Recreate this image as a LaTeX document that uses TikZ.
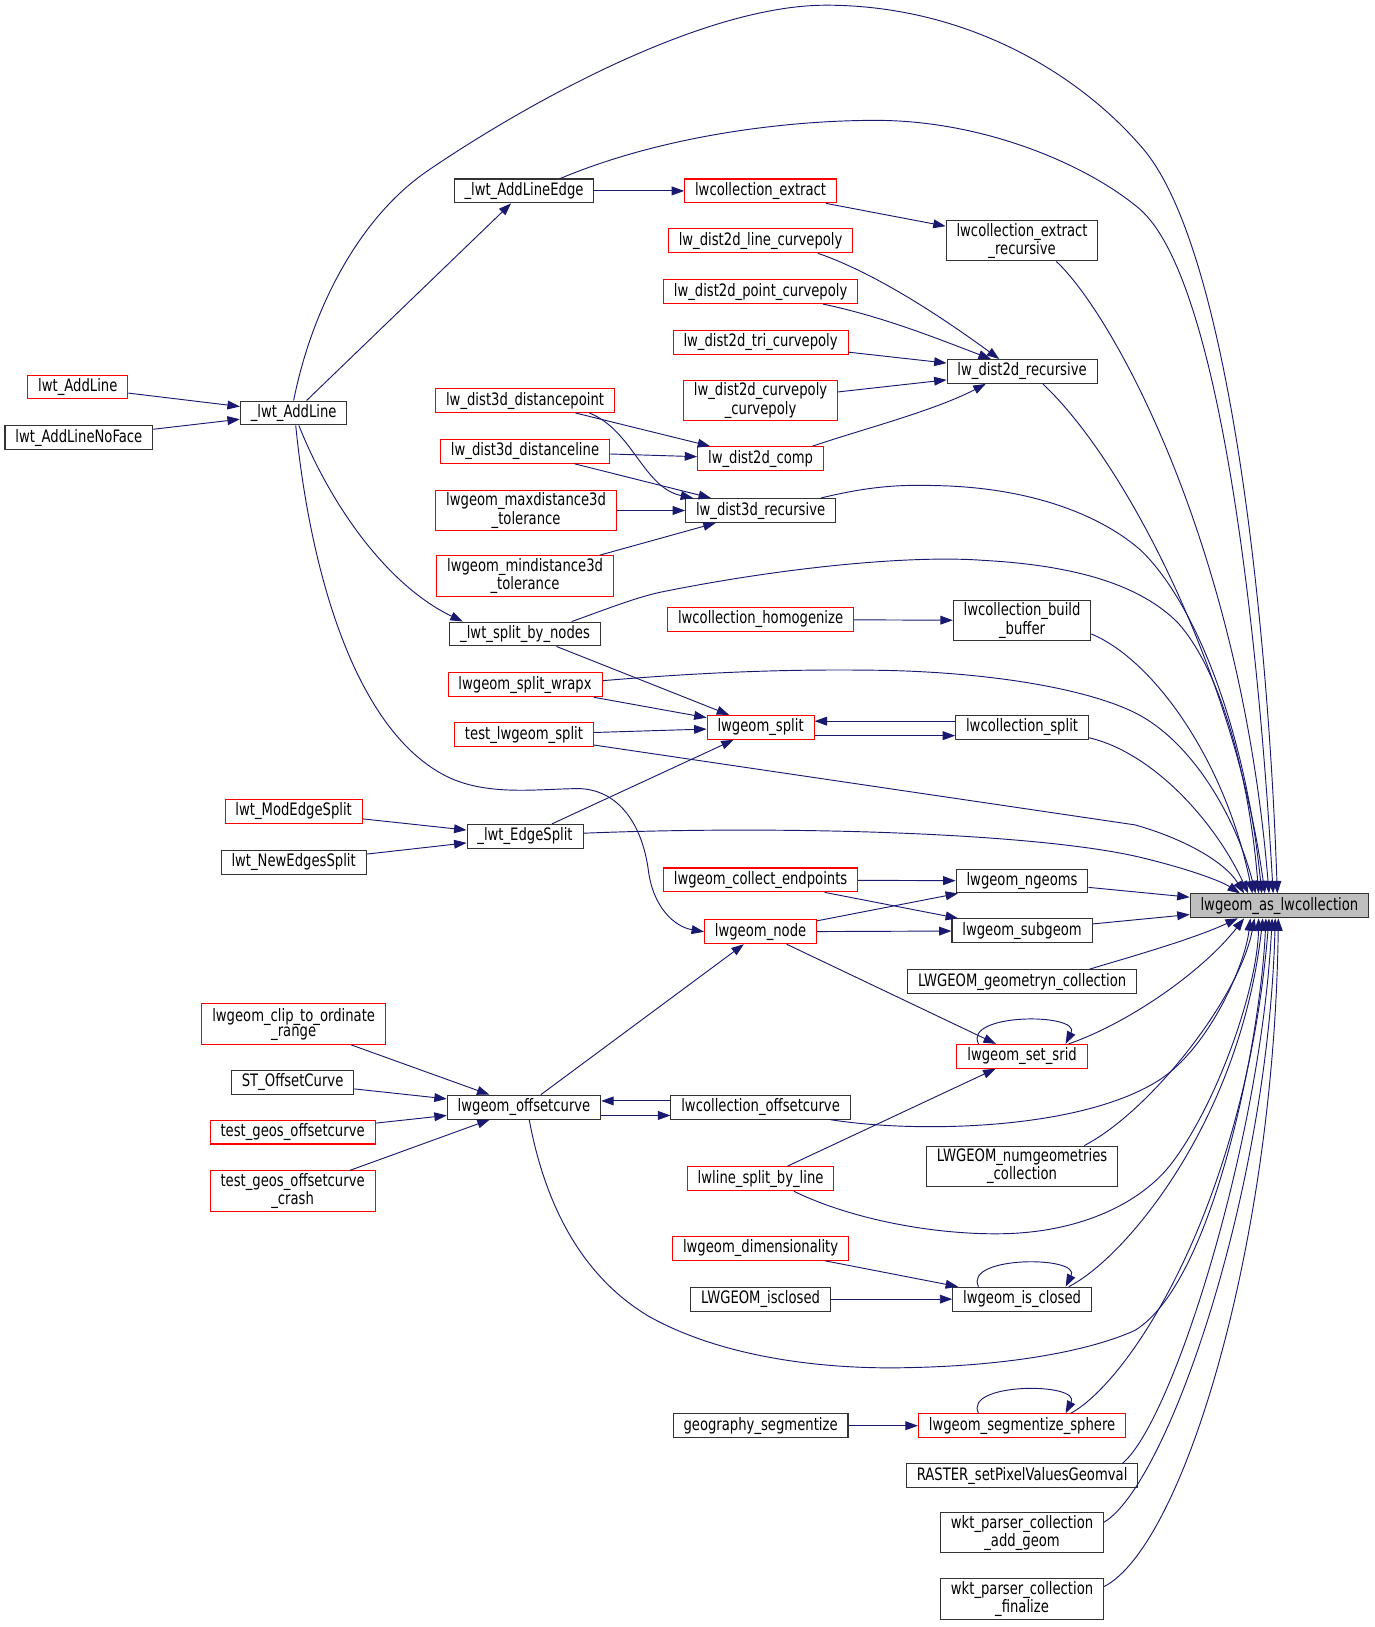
\documentclass[tikz,border=0pt]{standalone}
\usepackage{fontspec}
\setmainfont{DejaVu Sans}[FakeStretch=0.77]
\usetikzlibrary{arrows.meta}
\definecolor{edgeblue}{HTML}{191970}
\newcommand\fnfont{\fontsize{16.5pt}{14.5pt}\selectfont}

\begin{document}
\begin{tikzpicture}[x=1pt, y=-1pt,
  fn/.style={draw=black!80, line width=1pt, fill=white, font=\fnfont, inner xsep=10pt, inner ysep=2pt, minimum height=23pt, align=center},
  fntwo/.style={fn, minimum height=39pt},
  trunc/.style={draw=red},
  call/.style={draw=edgeblue, line width=0.9pt, -{Triangle[length=12pt, width=8.5pt]}}]
  \useasboundingbox (0,0) rectangle (1325,1568);

  \node[fn, fill=gray!50] (aslwcollection) at (1233,873) {lwgeom\_as\_lwcollection};

  \node[fntwo] (extractrec) at (985,232) {lwcollection\_extract\\\_recursive};
  \node[fn] (dist2drec) at (985,358) {lw\_dist2d\_recursive};
  \node[fntwo] (buildbuffer) at (985,598) {lwcollection\_build\\\_buffer};
  \node[fn] (collsplit) at (985,701) {lwcollection\_split};
  \node[fn] (ngeoms) at (985,849) {lwgeom\_ngeoms};
  \node[fn] (subgeom) at (985,897) {lwgeom\_subgeom};
  \node[fn] (geomncoll) at (985,946) {LWGEOM\_geometryn\_collection};
  \node[fn, trunc] (setsrid) at (985,1018) {lwgeom\_set\_srid};
  \node[fntwo] (numgeomcoll) at (985,1124) {LWGEOM\_numgeometries\\\_collection};
  \node[fn] (isclosed) at (985,1252) {lwgeom\_is\_closed};
  \node[fn, trunc] (segsphere) at (985,1374) {lwgeom\_segmentize\_sphere};
  \node[fn] (rastersetpix) at (985,1422) {RASTER\_setPixelValuesGeomval};
  \node[fntwo] (wktaddgeom) at (985,1477) {wkt\_parser\_collection\\\_add\_geom};
  \node[fntwo] (wktfinalize) at (985,1541) {wkt\_parser\_collection\\\_finalize};

  \node[fn, trunc] (collextract) at (733,184) {lwcollection\_extract};
  \node[fn, trunc] (d2dline) at (733,232) {lw\_dist2d\_line\_curvepoly};
  \node[fn, trunc] (d2dpoint) at (733,281) {lw\_dist2d\_point\_curvepoly};
  \node[fn, trunc] (d2dtri) at (733,330) {lw\_dist2d\_tri\_curvepoly};
  \node[fntwo, trunc] (d2dcurve) at (733,386) {lw\_dist2d\_curvepoly\\\_curvepoly};
  \node[fn, trunc] (d2dcomp) at (733,442) {lw\_dist2d\_comp};
  \node[fn] (d3drec) at (733,492) {lw\_dist3d\_recursive};
  \node[fn, trunc] (homogenize) at (733,597) {lwcollection\_homogenize};
  \node[fn, trunc] (geomsplit) at (733,701) {lwgeom\_split};
  \node[fn, trunc] (collectend) at (733,848) {lwgeom\_collect\_endpoints};
  \node[fn, trunc] (geomnode) at (733,898) {lwgeom\_node};
  \node[fn] (colloffset) at (733,1067) {lwcollection\_offsetcurve};
  \node[fn, trunc] (linesplit) at (733,1136) {lwline\_split\_by\_line};
  \node[fn, trunc] (dimension) at (733,1203) {lwgeom\_dimensionality};
  \node[fn] (isclosedsql) at (733,1252) {LWGEOM\_isclosed};
  \node[fn] (geogseg) at (733,1374) {geography\_segmentize};

  \node[fn] (addlineedge) at (505,184) {\_lwt\_AddLineEdge};
  \node[fn, trunc] (d3dpoint) at (506,386) {lw\_dist3d\_distancepoint};
  \node[fn, trunc] (d3dline) at (506,435) {lw\_dist3d\_distanceline};
  \node[fntwo, trunc] (maxd3d) at (507,492) {lwgeom\_maxdistance3d\\\_tolerance};
  \node[fntwo, trunc] (mind3d) at (506,555) {lwgeom\_mindistance3d\\\_tolerance};
  \node[fn] (splitnodes) at (506,611) {\_lwt\_split\_by\_nodes};
  \node[fn, trunc] (splitwrapx) at (506,660) {lwgeom\_split\_wrapx};
  \node[fn, trunc] (testsplit) at (505,708) {test\_lwgeom\_split};
  \node[fn] (edgesplit) at (506,806) {\_lwt\_EdgeSplit};
  \node[fn] (offsetcurve) at (505,1067) {lwgeom\_offsetcurve};

  \node[fn] (addline) at (283,398) {\_lwt\_AddLine};
  \node[fn, trunc] (modedge) at (283,782) {lwt\_ModEdgeSplit};
  \node[fn] (newedges) at (283,831) {lwt\_NewEdgesSplit};
  \node[fntwo, trunc] (cliprange) at (283,987) {lwgeom\_clip\_to\_ordinate\\\_range};
  \node[fn] (stoffset) at (282,1043) {ST\_OffsetCurve};
  \node[fn, trunc] (testoffset) at (282,1091) {test\_geos\_offsetcurve};
  \node[fntwo, trunc] (testcrash) at (282,1148) {test\_geos\_offsetcurve\\\_crash};

  \node[fn, trunc] (lwtaddline) at (75,373) {lwt\_AddLine};
  \node[fn] (lwtnoface) at (76,422) {lwt\_AddLineNoFace};

  \draw[call] (lwtaddline) -- (addline);
  \draw[call] (lwtnoface) -- (addline);
  \draw[call] (addline) -- (addlineedge);
  \draw[call] (addline.north) .. controls (300,300) and (345,210) .. (413,164) .. controls (513,96) and (680,5) .. (796,5) .. controls (930,5) and (1040,70) .. (1103,145) .. controls (1185,245) and (1222,600) .. ([xshift=-2pt]aslwcollection.north);
  \draw[call] ([xshift=5pt]addline.south) .. controls (320,490) and (375,565) .. ([xshift=-60pt]splitnodes.north);
  \draw[call] ([xshift=2pt]addline.south) .. controls (300,560) and (345,705) .. (430,748) .. controls (470,768) and (520,760) .. (559,760) .. controls (600,762) and (620,800) .. (625,840) .. controls (630,875) and (650,893) .. (geomnode.west);
  \draw[call] (addlineedge) -- (collextract);
  \draw[call] ([xshift=35pt]addlineedge.north) .. controls (640,130) and (760,116) .. (844,116) .. controls (950,116) and (1050,160) .. (1099,202) .. controls (1175,270) and (1212,600) .. ([xshift=-6pt]aslwcollection.north);
  \draw[call] (collextract) -- (extractrec);
  \draw[call] ([xshift=33pt]extractrec.south) .. controls (1070,300) and (1195,520) .. ([xshift=-10pt]aslwcollection.north);

  \draw[call] ([xshift=55pt]d2dline.south) .. controls (840,262) and (900,300) .. ([xshift=-22pt]dist2drec.north);
  \draw[call] ([xshift=60pt]d2dpoint.south) .. controls (850,305) and (900,325) .. ([xshift=-30pt]dist2drec.north);
  \draw[call] (d2dtri) -- (dist2drec);
  \draw[call] (d2dcurve) -- (dist2drec);
  \draw[call] ([xshift=50pt]d2dcomp.north) .. controls (830,414) and (900,396) .. ([xshift=-35pt]dist2drec.south);
  \draw[call] ([xshift=20pt]dist2drec.south) .. controls (1085,445) and (1190,650) .. ([xshift=-14pt]aslwcollection.north);
  \draw[call] (d3dpoint) -- (d2dcomp);
  \draw[call] ([xshift=62pt]d3dpoint.south) .. controls (610,415) and (620,470) .. ([xshift=-65pt]d3drec.north);
  \draw[call] (d3dline) -- (d2dcomp);
  \draw[call] (d3dline) -- (d3drec);
  \draw[call] (maxd3d) -- (d3drec);
  \draw[call] (mind3d) -- (d3drec);
  \draw[call] ([xshift=58pt]d3drec.north) .. controls (840,468) and (870,467) .. (903,468) .. controls (1000,470) and (1065,500) .. (1099,530) .. controls (1150,578) and (1200,700) .. ([xshift=-17pt]aslwcollection.north);

  \draw[call] (splitnodes) -- (geomsplit);
  \draw[call] ([xshift=45pt]splitnodes.north) .. controls (590,585) and (615,575) .. (640,570) .. controls (760,546) and (880,535) .. (947,540) .. controls (1040,545) and (1100,565) .. (1135,600) .. controls (1180,650) and (1205,760) .. ([xshift=-20pt]aslwcollection.north);
  \draw[call] (homogenize) -- (buildbuffer);
  \draw[call] ([yshift=-13pt]buildbuffer.east) .. controls (1110,635) and (1180,730) .. ([xshift=-26pt]aslwcollection.north);
  \draw[call] (splitwrapx) -- (geomsplit);
  \draw[call] ([yshift=4pt]splitwrapx.east) .. controls (700,646) and (780,645) .. (849,646) .. controls (960,648) and (1050,665) .. (1094,687) .. controls (1150,715) and (1192,790) .. ([xshift=-23pt]aslwcollection.north);
  \draw[call] (testsplit) -- (geomsplit);
  \draw[call] ([yshift=-10pt]testsplit.east) -- (1094,795) .. controls (1140,808) and (1180,830) .. ([xshift=-34pt]aslwcollection.north);
  \draw[call] ([yshift=-8pt]geomsplit.east) -- ([yshift=-8pt]collsplit.west);
  \draw[call] ([yshift=6pt]collsplit.west) -- ([yshift=6pt]geomsplit.east);
  \draw[call] ([yshift=-10pt]collsplit.east) .. controls (1110,725) and (1170,790) .. ([xshift=-30pt]aslwcollection.north);
  \draw[call] (edgesplit) -- (geomsplit);
  \draw[call] ([yshift=3pt]edgesplit.east) .. controls (760,795) and (1000,803) .. (1098,826) .. controls (1140,836) and (1175,848) .. ([xshift=-38pt]aslwcollection.north);
  \draw[call] (modedge) -- (edgesplit);
  \draw[call] (newedges) -- (edgesplit);

  \draw[call] (collectend) -- (ngeoms);
  \draw[call] (collectend) -- (subgeom);
  \draw[call] (geomnode) -- (ngeoms);
  \draw[call] (geomnode) -- (subgeom);
  \draw[call] (ngeoms) -- (aslwcollection);
  \draw[call] (subgeom) -- (aslwcollection);
  \draw[call] ([xshift=65pt]geomncoll.north) .. controls (1090,922) and (1150,905) .. ([xshift=-40pt]aslwcollection.south);
  \draw[call] (geomnode) -- (setsrid);
  \draw[call] ([xshift=-42pt]setsrid.north) .. controls +(-15,-30) and +(15,-30) .. ([xshift=42pt]setsrid.north);
  \draw[call] ([xshift=45pt]setsrid.north) .. controls (1090,985) and (1160,935) .. ([xshift=-34pt]aslwcollection.south);

  \draw[call] (offsetcurve) -- (geomnode);
  \draw[call] ([yshift=-8pt]offsetcurve.east) -- ([yshift=-8pt]colloffset.west);
  \draw[call] ([yshift=6pt]colloffset.west) -- ([yshift=6pt]offsetcurve.east);
  \draw[call] ([xshift=67pt]colloffset.south) .. controls (880,1092) and (1040,1090) .. (1117,1041) .. controls (1165,1010) and (1200,930) .. ([xshift=-28pt]aslwcollection.south);
  \draw[call] ([xshift=5pt]offsetcurve.south) .. controls (525,1160) and (560,1230) .. (626,1269) .. controls (700,1310) and (800,1320) .. (876,1318) .. controls (980,1316) and (1055,1300) .. (1094,1282) .. controls (1170,1235) and (1215,1000) .. ([xshift=-13pt]aslwcollection.south);
  \draw[call] (cliprange) -- (offsetcurve);
  \draw[call] (stoffset) -- (offsetcurve);
  \draw[call] (testoffset) -- (offsetcurve);
  \draw[call] (testcrash) -- (offsetcurve);

  \draw[call] (linesplit) -- (setsrid);
  \draw[call] ([xshift=32pt]linesplit.south) .. controls (820,1175) and (900,1190) .. (965,1189) .. controls (1040,1188) and (1100,1160) .. (1130,1120) .. controls (1175,1060) and (1212,950) .. ([xshift=-20pt]aslwcollection.south);
  \draw[call] ([xshift=60pt]numgeomcoll.north) .. controls (1110,1070) and (1195,960) .. ([xshift=-24pt]aslwcollection.south);
  \draw[call] (dimension) -- (isclosed);
  \draw[call] (isclosedsql) -- (isclosed);
  \draw[call] ([xshift=-42pt]isclosed.north) .. controls +(-15,-30) and +(15,-30) .. ([xshift=42pt]isclosed.north);
  \draw[call] ([xshift=45pt]isclosed.north) .. controls (1085,1212) and (1195,1080) .. ([xshift=-16pt]aslwcollection.south);
  \draw[call] (geogseg) -- (segsphere);
  \draw[call] ([xshift=-42pt]segsphere.north) .. controls +(-15,-30) and +(15,-30) .. ([xshift=42pt]segsphere.north);
  \draw[call] ([xshift=47pt]segsphere.north) .. controls (1090,1330) and (1200,1160) .. ([xshift=-10pt]aslwcollection.south);
  \draw[call] ([xshift=97pt]rastersetpix.north) .. controls (1130,1370) and (1215,1100) .. ([xshift=-7pt]aslwcollection.south);
  \draw[call] ([yshift=10pt]wktaddgeom.east) .. controls (1125,1430) and (1222,1150) .. ([xshift=-4pt]aslwcollection.south);
  \draw[call] ([yshift=12pt]wktfinalize.east) .. controls (1140,1490) and (1228,1200) .. ([xshift=-1pt]aslwcollection.south);
\end{tikzpicture}
\end{document}
